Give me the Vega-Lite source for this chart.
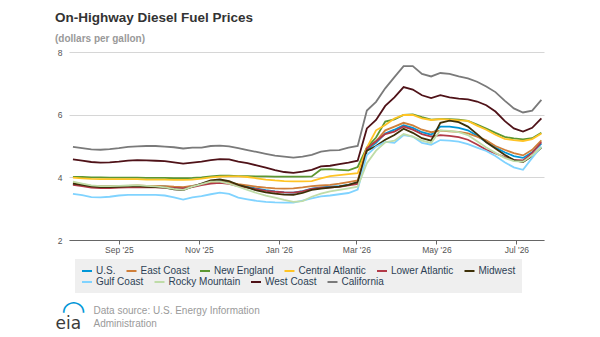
{
  "$schema": "https://vega.github.io/schema/vega-lite/v6.json",
  "autosize": {"type": "none"},
  "width": 475,
  "height": 188,
  "padding": {"left": 69, "top": 52, "right": 56, "bottom": 97},
  "background": "white",
  "config": {
    "view": {"stroke": null},
    "font": "Liberation Sans",
    "legend": {
      "orient": "none",
      "direction": "horizontal",
      "symbolType": "stroke",
      "symbolStrokeWidth": 2,
      "symbolSize": 100,
      "labelFont": "Liberation Sans",
      "labelFontSize": 10,
      "labelColor": "#2d3f55",
      "labelOffset": 3,
      "columnPadding": 6.5,
      "padding": 6
    }
  },
  "title": {
    "text": "On-Highway Diesel Fuel Prices",
    "subtitle": "(dollars per gallon)",
    "anchor": "start",
    "frame": "group",
    "dx": -14,
    "offset": 4,
    "font": "Liberation Sans",
    "fontSize": 13.5,
    "fontWeight": "bold",
    "color": "#333333",
    "subtitleFont": "Liberation Sans",
    "subtitleFontSize": 10,
    "subtitleFontWeight": "bold",
    "subtitleColor": "#999999",
    "subtitlePadding": 10
  },
  "data": {
    "values": [
      {"date": "2025-07-28", "US": 3.79, "East Coast": 3.82, "New England": 4.01, "Central Atlantic": 3.99, "Lower Atlantic": 3.76, "Midwest": 3.80, "Gulf Coast": 3.47, "Rocky Mountain": 3.86, "West Coast": 4.57, "California": 4.97},
      {"date": "2025-08-04", "US": 3.76, "East Coast": 3.78, "New England": 4.01, "Central Atlantic": 3.97, "Lower Atlantic": 3.72, "Midwest": 3.76, "Gulf Coast": 3.43, "Rocky Mountain": 3.80, "West Coast": 4.53, "California": 4.93},
      {"date": "2025-08-11", "US": 3.72, "East Coast": 3.73, "New England": 4.00, "Central Atlantic": 3.95, "Lower Atlantic": 3.67, "Midwest": 3.71, "Gulf Coast": 3.37, "Rocky Mountain": 3.74, "West Coast": 4.49, "California": 4.89},
      {"date": "2025-08-18", "US": 3.71, "East Coast": 3.72, "New England": 4.00, "Central Atlantic": 3.94, "Lower Atlantic": 3.66, "Midwest": 3.69, "Gulf Coast": 3.36, "Rocky Mountain": 3.72, "West Coast": 4.47, "California": 4.88},
      {"date": "2025-08-25", "US": 3.71, "East Coast": 3.72, "New England": 3.99, "Central Atlantic": 3.94, "Lower Atlantic": 3.66, "Midwest": 3.69, "Gulf Coast": 3.38, "Rocky Mountain": 3.72, "West Coast": 4.48, "California": 4.90},
      {"date": "2025-09-01", "US": 3.72, "East Coast": 3.73, "New England": 3.99, "Central Atlantic": 3.94, "Lower Atlantic": 3.67, "Midwest": 3.70, "Gulf Coast": 3.42, "Rocky Mountain": 3.73, "West Coast": 4.50, "California": 4.93},
      {"date": "2025-09-08", "US": 3.72, "East Coast": 3.73, "New England": 3.99, "Central Atlantic": 3.94, "Lower Atlantic": 3.68, "Midwest": 3.71, "Gulf Coast": 3.44, "Rocky Mountain": 3.74, "West Coast": 4.53, "California": 4.97},
      {"date": "2025-09-15", "US": 3.73, "East Coast": 3.74, "New England": 3.99, "Central Atlantic": 3.94, "Lower Atlantic": 3.69, "Midwest": 3.72, "Gulf Coast": 3.44, "Rocky Mountain": 3.75, "West Coast": 4.55, "California": 4.99},
      {"date": "2025-09-22", "US": 3.72, "East Coast": 3.73, "New England": 3.98, "Central Atlantic": 3.93, "Lower Atlantic": 3.68, "Midwest": 3.70, "Gulf Coast": 3.44, "Rocky Mountain": 3.73, "West Coast": 4.54, "California": 5.00},
      {"date": "2025-09-29", "US": 3.72, "East Coast": 3.73, "New England": 3.98, "Central Atlantic": 3.93, "Lower Atlantic": 3.68, "Midwest": 3.69, "Gulf Coast": 3.44, "Rocky Mountain": 3.71, "West Coast": 4.53, "California": 5.00},
      {"date": "2025-10-06", "US": 3.71, "East Coast": 3.72, "New England": 3.98, "Central Atlantic": 3.93, "Lower Atlantic": 3.67, "Midwest": 3.67, "Gulf Coast": 3.42, "Rocky Mountain": 3.68, "West Coast": 4.52, "California": 4.98},
      {"date": "2025-10-13", "US": 3.68, "East Coast": 3.70, "New England": 3.97, "Central Atlantic": 3.92, "Lower Atlantic": 3.66, "Midwest": 3.62, "Gulf Coast": 3.36, "Rocky Mountain": 3.63, "West Coast": 4.48, "California": 4.96},
      {"date": "2025-10-20", "US": 3.66, "East Coast": 3.69, "New England": 3.97, "Central Atlantic": 3.92, "Lower Atlantic": 3.65, "Midwest": 3.59, "Gulf Coast": 3.29, "Rocky Mountain": 3.60, "West Coast": 4.44, "California": 4.92},
      {"date": "2025-10-27", "US": 3.72, "East Coast": 3.73, "New England": 3.98, "Central Atlantic": 3.93, "Lower Atlantic": 3.69, "Midwest": 3.70, "Gulf Coast": 3.36, "Rocky Mountain": 3.70, "West Coast": 4.47, "California": 4.95},
      {"date": "2025-11-03", "US": 3.78, "East Coast": 3.78, "New England": 4.00, "Central Atlantic": 3.96, "Lower Atlantic": 3.75, "Midwest": 3.80, "Gulf Coast": 3.40, "Rocky Mountain": 3.78, "West Coast": 4.50, "California": 4.95},
      {"date": "2025-11-10", "US": 3.84, "East Coast": 3.84, "New England": 4.03, "Central Atlantic": 4.00, "Lower Atlantic": 3.80, "Midwest": 3.90, "Gulf Coast": 3.46, "Rocky Mountain": 3.86, "West Coast": 4.55, "California": 5.00},
      {"date": "2025-11-17", "US": 3.88, "East Coast": 3.86, "New England": 4.05, "Central Atlantic": 4.02, "Lower Atlantic": 3.82, "Midwest": 3.93, "Gulf Coast": 3.51, "Rocky Mountain": 3.86, "West Coast": 4.58, "California": 5.01},
      {"date": "2025-11-24", "US": 3.84, "East Coast": 3.83, "New England": 4.05, "Central Atlantic": 4.03, "Lower Atlantic": 3.79, "Midwest": 3.88, "Gulf Coast": 3.47, "Rocky Mountain": 3.80, "West Coast": 4.57, "California": 4.99},
      {"date": "2025-12-01", "US": 3.76, "East Coast": 3.78, "New England": 4.04, "Central Atlantic": 4.03, "Lower Atlantic": 3.72, "Midwest": 3.76, "Gulf Coast": 3.35, "Rocky Mountain": 3.70, "West Coast": 4.50, "California": 4.93},
      {"date": "2025-12-08", "US": 3.70, "East Coast": 3.74, "New England": 4.04, "Central Atlantic": 4.01, "Lower Atlantic": 3.67, "Midwest": 3.68, "Gulf Coast": 3.30, "Rocky Mountain": 3.60, "West Coast": 4.45, "California": 4.87},
      {"date": "2025-12-15", "US": 3.64, "East Coast": 3.70, "New England": 4.03, "Central Atlantic": 3.97, "Lower Atlantic": 3.62, "Midwest": 3.58, "Gulf Coast": 3.25, "Rocky Mountain": 3.50, "West Coast": 4.38, "California": 4.81},
      {"date": "2025-12-22", "US": 3.59, "East Coast": 3.67, "New England": 4.03, "Central Atlantic": 3.93, "Lower Atlantic": 3.57, "Midwest": 3.52, "Gulf Coast": 3.22, "Rocky Mountain": 3.42, "West Coast": 4.31, "California": 4.75},
      {"date": "2025-12-29", "US": 3.55, "East Coast": 3.65, "New England": 4.02, "Central Atlantic": 3.90, "Lower Atlantic": 3.54, "Midwest": 3.48, "Gulf Coast": 3.20, "Rocky Mountain": 3.35, "West Coast": 4.23, "California": 4.69},
      {"date": "2026-01-05", "US": 3.52, "East Coast": 3.64, "New England": 4.02, "Central Atlantic": 3.88, "Lower Atlantic": 3.52, "Midwest": 3.45, "Gulf Coast": 3.19, "Rocky Mountain": 3.28, "West Coast": 4.17, "California": 4.66},
      {"date": "2026-01-12", "US": 3.51, "East Coast": 3.65, "New England": 4.02, "Central Atlantic": 3.87, "Lower Atlantic": 3.51, "Midwest": 3.44, "Gulf Coast": 3.19, "Rocky Mountain": 3.22, "West Coast": 4.14, "California": 4.63},
      {"date": "2026-01-19", "US": 3.56, "East Coast": 3.68, "New England": 4.02, "Central Atlantic": 3.87, "Lower Atlantic": 3.55, "Midwest": 3.50, "Gulf Coast": 3.26, "Rocky Mountain": 3.24, "West Coast": 4.18, "California": 4.66},
      {"date": "2026-01-26", "US": 3.64, "East Coast": 3.72, "New England": 4.03, "Central Atlantic": 3.88, "Lower Atlantic": 3.63, "Midwest": 3.60, "Gulf Coast": 3.33, "Rocky Mountain": 3.38, "West Coast": 4.24, "California": 4.72},
      {"date": "2026-02-02", "US": 3.68, "East Coast": 3.74, "New England": 4.25, "Central Atlantic": 3.97, "Lower Atlantic": 3.66, "Midwest": 3.64, "Gulf Coast": 3.39, "Rocky Mountain": 3.48, "West Coast": 4.35, "California": 4.82},
      {"date": "2026-02-09", "US": 3.70, "East Coast": 3.76, "New England": 4.26, "Central Atlantic": 4.04, "Lower Atlantic": 3.68, "Midwest": 3.67, "Gulf Coast": 3.42, "Rocky Mountain": 3.55, "West Coast": 4.37, "California": 4.86},
      {"date": "2026-02-16", "US": 3.72, "East Coast": 3.80, "New England": 4.24, "Central Atlantic": 4.07, "Lower Atlantic": 3.70, "Midwest": 3.70, "Gulf Coast": 3.46, "Rocky Mountain": 3.60, "West Coast": 4.42, "California": 4.87},
      {"date": "2026-02-23", "US": 3.76, "East Coast": 3.85, "New England": 4.22, "Central Atlantic": 4.10, "Lower Atlantic": 3.74, "Midwest": 3.76, "Gulf Coast": 3.50, "Rocky Mountain": 3.65, "West Coast": 4.47, "California": 4.95},
      {"date": "2026-03-02", "US": 3.83, "East Coast": 3.90, "New England": 4.33, "Central Atlantic": 4.13, "Lower Atlantic": 3.79, "Midwest": 3.85, "Gulf Coast": 3.61, "Rocky Mountain": 3.70, "West Coast": 4.53, "California": 5.00},
      {"date": "2026-03-09", "US": 4.88, "East Coast": 4.93, "New England": 4.95, "Central Atlantic": 4.95, "Lower Atlantic": 4.93, "Midwest": 4.85, "Gulf Coast": 4.71, "Rocky Mountain": 4.45, "West Coast": 5.56, "California": 6.13},
      {"date": "2026-03-16", "US": 5.10, "East Coast": 5.15, "New England": 5.27, "Central Atlantic": 5.50, "Lower Atlantic": 5.15, "Midwest": 5.00, "Gulf Coast": 4.98, "Rocky Mountain": 4.85, "West Coast": 5.83, "California": 6.41},
      {"date": "2026-03-23", "US": 5.40, "East Coast": 5.50, "New England": 5.78, "Central Atlantic": 5.67, "Lower Atlantic": 5.38, "Midwest": 5.20, "Gulf Coast": 5.13, "Rocky Mountain": 5.12, "West Coast": 6.28, "California": 6.84},
      {"date": "2026-03-30", "US": 5.52, "East Coast": 5.62, "New England": 5.85, "Central Atlantic": 5.88, "Lower Atlantic": 5.46, "Midwest": 5.35, "Gulf Coast": 5.10, "Rocky Mountain": 5.17, "West Coast": 6.55, "California": 7.20},
      {"date": "2026-04-06", "US": 5.66, "East Coast": 5.74, "New England": 5.99, "Central Atlantic": 5.99, "Lower Atlantic": 5.62, "Midwest": 5.55, "Gulf Coast": 5.35, "Rocky Mountain": 5.38, "West Coast": 6.88, "California": 7.55},
      {"date": "2026-04-13", "US": 5.58, "East Coast": 5.66, "New England": 6.01, "Central Atlantic": 5.99, "Lower Atlantic": 5.52, "Midwest": 5.42, "Gulf Coast": 5.30, "Rocky Mountain": 5.30, "West Coast": 6.80, "California": 7.55},
      {"date": "2026-04-20", "US": 5.44, "East Coast": 5.52, "New England": 5.92, "Central Atlantic": 5.88, "Lower Atlantic": 5.38, "Midwest": 5.25, "Gulf Coast": 5.10, "Rocky Mountain": 5.17, "West Coast": 6.62, "California": 7.30},
      {"date": "2026-04-27", "US": 5.36, "East Coast": 5.44, "New England": 5.84, "Central Atlantic": 5.83, "Lower Atlantic": 5.30, "Midwest": 5.17, "Gulf Coast": 5.04, "Rocky Mountain": 5.10, "West Coast": 6.53, "California": 7.22},
      {"date": "2026-05-04", "US": 5.62, "East Coast": 5.49, "New England": 5.86, "Central Atlantic": 5.86, "Lower Atlantic": 5.35, "Midwest": 5.74, "Gulf Coast": 5.19, "Rocky Mountain": 5.50, "West Coast": 6.62, "California": 7.33},
      {"date": "2026-05-11", "US": 5.62, "East Coast": 5.47, "New England": 5.86, "Central Atlantic": 5.84, "Lower Atlantic": 5.32, "Midwest": 5.81, "Gulf Coast": 5.17, "Rocky Mountain": 5.48, "West Coast": 6.55, "California": 7.30},
      {"date": "2026-05-18", "US": 5.58, "East Coast": 5.45, "New England": 5.84, "Central Atlantic": 5.82, "Lower Atlantic": 5.28, "Midwest": 5.76, "Gulf Coast": 5.14, "Rocky Mountain": 5.44, "West Coast": 6.51, "California": 7.22},
      {"date": "2026-05-25", "US": 5.50, "East Coast": 5.40, "New England": 5.80, "Central Atlantic": 5.80, "Lower Atlantic": 5.20, "Midwest": 5.62, "Gulf Coast": 5.06, "Rocky Mountain": 5.35, "West Coast": 6.49, "California": 7.16},
      {"date": "2026-06-01", "US": 5.33, "East Coast": 5.30, "New England": 5.68, "Central Atlantic": 5.65, "Lower Atlantic": 5.05, "Midwest": 5.38, "Gulf Coast": 4.95, "Rocky Mountain": 5.15, "West Coast": 6.42, "California": 7.05},
      {"date": "2026-06-08", "US": 5.13, "East Coast": 5.18, "New England": 5.56, "Central Atlantic": 5.52, "Lower Atlantic": 4.88, "Midwest": 5.12, "Gulf Coast": 4.84, "Rocky Mountain": 4.95, "West Coast": 6.30, "California": 6.90},
      {"date": "2026-06-15", "US": 4.95, "East Coast": 5.00, "New England": 5.42, "Central Atlantic": 5.36, "Lower Atlantic": 4.76, "Midwest": 4.92, "Gulf Coast": 4.68, "Rocky Mountain": 4.78, "West Coast": 6.10, "California": 6.72},
      {"date": "2026-06-22", "US": 4.80, "East Coast": 4.88, "New England": 5.29, "Central Atlantic": 5.23, "Lower Atlantic": 4.65, "Midwest": 4.72, "Gulf Coast": 4.48, "Rocky Mountain": 4.62, "West Coast": 5.80, "California": 6.45},
      {"date": "2026-06-29", "US": 4.68, "East Coast": 4.77, "New England": 5.24, "Central Atlantic": 5.19, "Lower Atlantic": 4.56, "Midwest": 4.55, "Gulf Coast": 4.32, "Rocky Mountain": 4.52, "West Coast": 5.56, "California": 6.20},
      {"date": "2026-07-06", "US": 4.62, "East Coast": 4.70, "New England": 5.21, "Central Atlantic": 5.16, "Lower Atlantic": 4.54, "Midwest": 4.49, "Gulf Coast": 4.24, "Rocky Mountain": 4.50, "West Coast": 5.46, "California": 6.07},
      {"date": "2026-07-13", "US": 4.80, "East Coast": 4.88, "New England": 5.25, "Central Atlantic": 5.22, "Lower Atlantic": 4.78, "Midwest": 4.68, "Gulf Coast": 4.62, "Rocky Mountain": 4.70, "West Coast": 5.58, "California": 6.13},
      {"date": "2026-07-20", "US": 5.08, "East Coast": 5.18, "New England": 5.42, "Central Atlantic": 5.40, "Lower Atlantic": 5.12, "Midwest": 4.95, "Gulf Coast": 4.98, "Rocky Mountain": 4.96, "West Coast": 5.88, "California": 6.47}
    ],
    "format": {"parse": {"date": "date:'%Y-%m-%d'"}}
  },
  "transform": [
    {"fold": ["US", "East Coast", "New England", "Central Atlantic", "Lower Atlantic", "Midwest", "Gulf Coast", "Rocky Mountain", "West Coast", "California"], "as": ["region", "price"]}
  ],
  "encoding": {
    "y": {
      "field": "price",
      "type": "quantitative",
      "scale": {"domain": [2, 8], "nice": false, "zero": false},
      "axis": {
        "values": [2, 4, 6, 8],
        "grid": true,
        "gridColor": "#d6d6d6",
        "gridWidth": 1,
        "domain": false,
        "ticks": false,
        "labelFont": "Liberation Sans",
        "labelFontSize": 8.5,
        "labelColor": "#555555",
        "labelPadding": 7,
        "title": "eia",
        "titleAngle": 0,
        "titleX": -14,
        "titleY": 276,
        "titleAlign": "left",
        "titleBaseline": "alphabetic",
        "titleFont": "DejaVu Sans",
        "titleFontSize": 17,
        "titleFontWeight": "normal",
        "titleColor": "#3a3a3a"
      }
    }
  },
  "layer": [
    {
      "transform": [{"filter": {"field": "region", "oneOf": ["US", "East Coast", "New England", "Central Atlantic", "Lower Atlantic", "Midwest"]}}],
      "mark": {"type": "line", "strokeWidth": 1.8},
      "encoding": {
        "x": {
          "field": "date",
          "type": "temporal",
          "scale": {"domain": [{"year": 2025, "month": 7, "date": 25}, {"year": 2026, "month": 7, "date": 22}]},
          "axis": {
            "format": "%b '%y",
            "tickCount": {"interval": "month", "step": 2},
            "grid": false,
            "labelFont": "Liberation Sans",
            "labelFontSize": 8.5,
            "labelColor": "#555555",
            "labelPadding": 1,
            "labelFlush": false,
            "domainColor": "#666666",
            "tickColor": "#666666",
            "tickSize": 4,
            "title": ["Data source: U.S. Energy Information", "Administration"],
            "titleX": 24,
            "titleY": 65,
            "titleAlign": "left",
            "titleBaseline": "top",
            "titleFont": "Liberation Sans",
            "titleFontSize": 10,
            "titleFontWeight": "normal",
            "titleColor": "#9a9a9a",
            "titleLineHeight": 13
          }
        },
        "color": {
          "field": "region",
          "type": "nominal",
          "scale": {
            "domain": ["US", "East Coast", "New England", "Central Atlantic", "Lower Atlantic", "Midwest"],
            "range": ["#0096d7", "#cf7f3a", "#5d9732", "#ffc425", "#b23a48", "#3d3008"]
          },
          "legend": {
            "title": "\u00a0",
            "titleOrient": "bottom",
            "titleFontSize": 10,
            "titlePadding": 1,
            "legendX": 6,
            "legendY": 207,
            "fillColor": "#efefef",
            "labelExpr": "datum.label == 'US' ? 'U.S.' : datum.label"
          }
        }
      }
    },
    {
      "transform": [{"filter": {"field": "region", "oneOf": ["Gulf Coast", "Rocky Mountain", "West Coast", "California"]}}],
      "mark": {"type": "line", "strokeWidth": 1.8},
      "encoding": {
        "x": {
          "field": "date",
          "type": "temporal",
          "scale": {"domain": [{"year": 2025, "month": 7, "date": 25}, {"year": 2026, "month": 7, "date": 22}]},
          "axis": {
            "orient": "top",
            "labels": false,
            "ticks": false,
            "domain": false,
            "grid": false,
            "title": "◠",
            "titleX": 4,
            "titleY": 259,
            "titleAlign": "center",
            "titleBaseline": "middle",
            "titleFont": "DejaVu Sans",
            "titleFontSize": 28,
            "titleFontWeight": "bold",
            "titleColor": "#0096d7"
          }
        },
        "color": {
          "field": "region",
          "type": "nominal",
          "scale": {
            "domain": ["Gulf Coast", "Rocky Mountain", "West Coast", "California"],
            "range": ["#80d3ff", "#bfdca8", "#4f1218", "#7a7a7a"]
          },
          "legend": {
            "title": null,
            "legendX": 6,
            "legendY": 218
          }
        }
      }
    }
  ],
  "resolve": {"axis": {"x": "independent"}, "scale": {"color": "independent"}}
}
